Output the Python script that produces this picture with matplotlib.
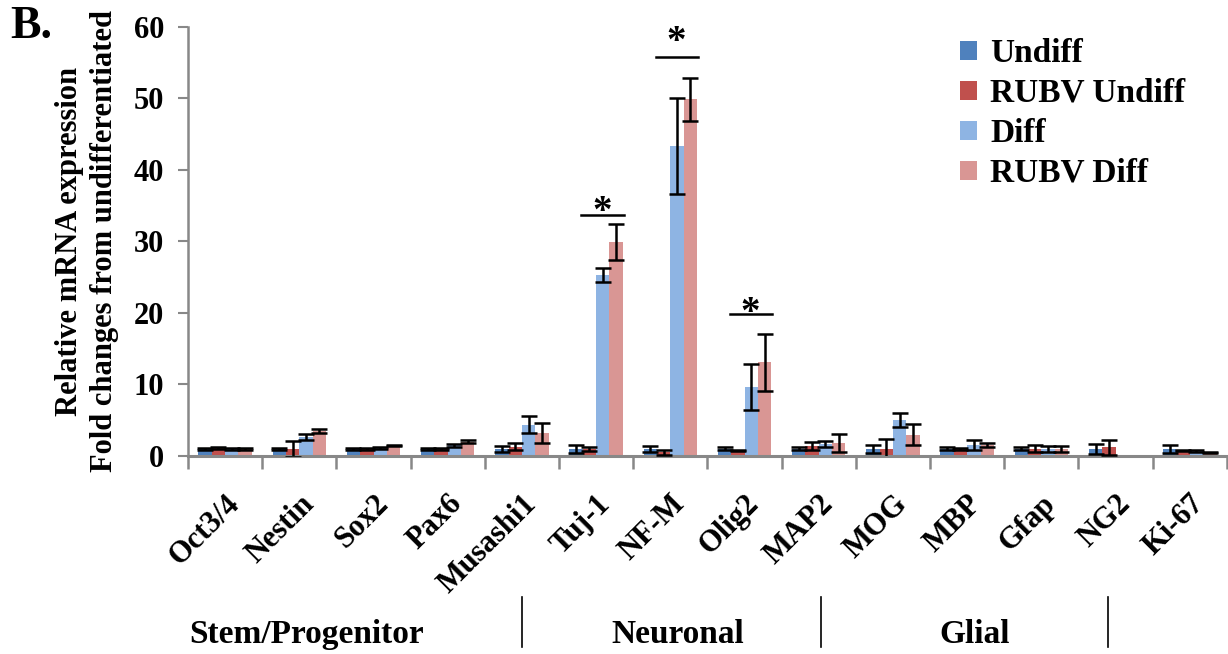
import numpy as np
import matplotlib
matplotlib.use("Agg")
import matplotlib.pyplot as plt
import matplotlib.transforms as mtransforms
from matplotlib.patches import Patch

# data
genes = ["Oct3/4", "Nestin", "Sox2", "Pax6", "Musashi1", "Tuj-1", "NF-M",
         "Olig2", "MAP2", "MOG", "MBP", "Gfap", "NG2", "Ki-67"]
series = ["Undiff", "RUBV Undiff", "Diff", "RUBV Diff"]

undiff = [1.0, 1.0, 1.0, 1.0, 1.0, 1.0, 1.0, 1.0, 1.0, 1.0, 1.0, 1.0, 1.0, 1.0]
undiff_err = [0.1, 0.1, 0.1, 0.1, 0.4, 0.6, 0.4, 0.2, 0.2, 0.6, 0.2, 0.2, 0.7, 0.6]
rubv_undiff = [1.1, 1.0, 1.0, 1.0, 1.3, 1.0, 0.5, 0.8, 1.4, 1.0, 1.0, 1.0, 1.2, 0.8]
rubv_undiff_err = [0.1, 1.1, 0.1, 0.1, 0.5, 0.3, 0.3, 0.1, 0.5, 1.4, 0.1, 0.5, 1.1, 0.05]
diff = [1.0, 2.7, 1.1, 1.5, 4.4, 25.3, 43.4, 9.6, 1.7, 5.0, 1.5, 1.0, 0.0, 0.7]
diff_err = [0.1, 0.4, 0.1, 0.2, 1.2, 1.0, 6.7, 3.2, 0.4, 1.0, 0.7, 0.4, 0.0, 0.1]
rubv_diff = [1.0, 3.5, 1.5, 2.0, 3.2, 29.9, 49.9, 13.1, 1.8, 3.0, 1.5, 1.0, 0.0, 0.5]
rubv_diff_err = [0.1, 0.3, 0.1, 0.2, 1.4, 2.5, 3.0, 4.0, 1.3, 1.5, 0.3, 0.4, 0.0, 0.05]

groups = ["Stem/Progenitor", "Neuronal", "Glial"]
sig_genes = ["Tuj-1", "NF-M", "Olig2"]
sig_heights = [33.7, 55.8, 19.8]
star_heights = [31.5, 55.3, 17.4]

colors = ["#4F81BD", "#C0504D", "#8EB4E3", "#D99694"]

plt.rcParams["font.family"] = ["Liberation Serif", "DejaVu Serif"]
plt.rcParams["font.weight"] = "bold"

fig = plt.figure(figsize=(12.28, 6.54), dpi=100)
ax = fig.add_axes([0.1531, 0.3028, 0.846, 0.656])

x = np.arange(len(genes))
w = 0.18
vals = [undiff, rubv_undiff, diff, rubv_diff]
errs = [undiff_err, rubv_undiff_err, diff_err, rubv_diff_err]
for i, (v, e, c) in enumerate(zip(vals, errs, colors)):
    v = np.array(v)
    e = np.array(e)
    pos = x + (i - 1.5) * w
    ax.bar(pos, v, width=w, color=c, label=series[i], zorder=2)
    m = v > 0
    ax.errorbar(pos[m], v[m], yerr=e[m], fmt="none", ecolor="black",
                elinewidth=1.8, capsize=6, capthick=1.8, zorder=3)

# significance bars
for g, h, sh in zip(sig_genes, sig_heights, star_heights):
    ci = genes.index(g)
    ax.plot([ci - 0.2, ci + 0.37], [h, h], color="black", lw=1.8,
            clip_on=False, zorder=4)
    ax.text(ci + 0.08, sh, "*", ha="center", va="bottom",
            fontsize=28, fontweight="bold", clip_on=False)

ax.set_xlim(-0.5, len(genes) - 0.5)
ax.set_ylim(0, 60)
ax.set_yticks(np.arange(0, 61, 10))
ax.tick_params(axis="y", labelsize=22, length=7, width=1.5, color="#888888",
               pad=10)
ax.set_xticks(x)
ax.set_xticklabels(genes, rotation=45, ha="right", rotation_mode="anchor",
                   fontsize=22, fontweight="bold")
ax.tick_params(axis="x", length=0, pad=24)
ax.set_xticks(np.arange(-0.5, len(genes), 1.0), minor=True)
ax.tick_params(axis="x", which="minor", length=9, width=1.8, color="#888888")
for lab in ax.get_yticklabels():
    lab.set_fontweight("bold")

for s in ["top", "right"]:
    ax.spines[s].set_visible(False)
ax.spines["left"].set_color("#888888")
ax.spines["left"].set_linewidth(1.8)
ax.spines["bottom"].set_color("#888888")
ax.spines["bottom"].set_linewidth(2.2)

ax.set_ylabel("Relative mRNA expression\nFold changes from undifferentiated",
              fontsize=22, fontweight="bold", linespacing=1.3)
ax.yaxis.set_label_coords(-0.066, 0.5)

handles = [Patch(facecolor=c, label=s) for c, s in zip(colors, series)]
leg = fig.legend(handles=handles, loc="upper left",
                 bbox_to_anchor=(960 / 1228, 1 - 38 / 654),
                 frameon=False, handlelength=0.5, handleheight=0.5,
                 handletextpad=0.4, labelspacing=0.27, borderpad=0,
                 borderaxespad=0, prop={"weight": "bold", "size": 24})

# group separators and labels beneath the axis
trans = mtransforms.blended_transform_factory(ax.transData, fig.transFigure)
for sx in [4.0, 8.03, 11.9]:
    fig.add_artist(plt.Line2D([sx, sx], [0.01, 0.087], transform=trans,
                              color="black", lw=1.2))
for gx, gl in zip([1.1, 6.1, 10.1], groups):
    ax.text(gx, 0.03, gl, transform=trans, ha="center", va="center",
            fontsize=24, fontweight="bold")

fig.text(0.008, 0.958, "B.", fontsize=33, fontweight="bold", va="center")

fig.savefig("out.png", dpi=100)
